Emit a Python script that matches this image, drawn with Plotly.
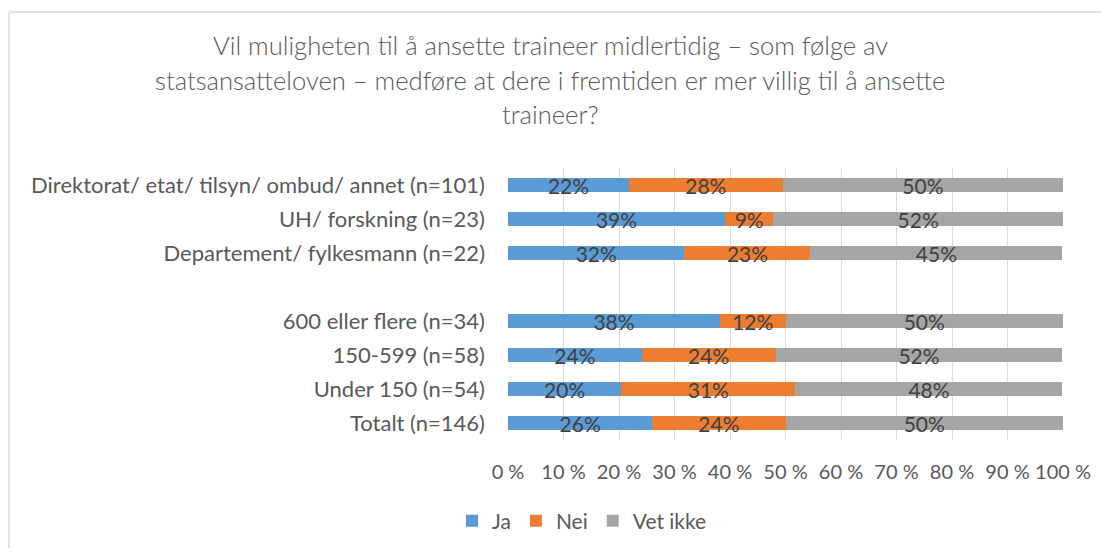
import plotly.graph_objects as go

# Data (percent of respondents), top-to-bottom order
categories_top = [
    "Direktorat/ etat/ tilsyn/ ombud/ annet (n=101)",
    "UH/ forskning (n=23)",
    "Departement/ fylkesmann (n=22)",
]
categories_bottom = [
    "600 eller flere (n=34)",
    "150-599 (n=58)",
    "Under 150 (n=54)",
    "Totalt (n=146)",
]
categories = categories_top + categories_bottom
ja = [21.8, 39.1, 31.8, 38.2, 24.1, 20.4, 26.0]
nei = [27.7, 8.7, 22.7, 11.8, 24.1, 31.4, 24.0]
vet_ikke = [50.5, 52.2, 45.4, 50.0, 51.7, 48.1, 50.0]
series_names = ["Ja", "Nei", "Vet ikke"]
series_colors = ["#5B9BD5", "#ED7D31", "#A5A5A5"]
tick_values = [0, 10, 20, 30, 40, 50, 60, 70, 80, 90, 100]
tick_labels = [f"{v} %" for v in tick_values]
title_lines = [
    "Vil muligheten til å ansette traineer midlertidig – som følge av",
    "statsansatteloven – medføre at dere i fremtiden er mer villig til å ansette",
    "traineer?",
]

category_order = categories_top + [" "] + categories_bottom

OFF = 8  # page body margin
PAGE_W, PAGE_H = 1109, 556
W, H = PAGE_W - 2 * OFF, PAGE_H - 2 * OFF
# plot area in page pixels
PX0, PX1, PY0, PY1 = 508, 1063, 168, 440
L = PX0 - OFF
R = W - (PX1 - OFF)
T = PY0 - OFF
B = H - (PY1 - OFF)
plot_h = PY1 - PY0
plot_w = PX1 - PX0

FONT = "Lato"


def py(pix):
    return (PY1 - pix) / plot_h


def px(pix):
    return (pix - PX0) / plot_w


fig = go.Figure()
for name, vals, col in zip(series_names, [ja, nei, vet_ikke], series_colors):
    fig.add_trace(go.Bar(
        y=categories, x=vals, name=name, orientation="h",
        marker=dict(color=col, line=dict(width=0)),
        text=[f"{round(v):.0f}%" for v in vals],
        textposition="inside", insidetextanchor="middle",
        textangle=0, constraintext="none",
        textfont=dict(family=FONT, size=21, color="#404040"),
        hoverinfo="skip",
    ))

annotations = []
for line, ypix in zip(title_lines, [45, 80, 114]):
    annotations.append(dict(
        text=line, xref="paper", yref="paper", x=px(550), y=py(ypix),
        xanchor="center", yanchor="middle", showarrow=False,
        font=dict(family=FONT, size=25.6, color="#595959", weight=300),
    ))

shapes = [
    dict(type="line", xref="paper", yref="paper", x0=px(9), x1=px(PAGE_W + 20),
         y0=py(12), y1=py(12), line=dict(color="#D9D9D9", width=1.5)),
    dict(type="line", xref="paper", yref="paper", x0=px(9), x1=px(9),
         y0=py(12), y1=py(PAGE_H + 20), line=dict(color="#D9D9D9", width=1.5)),
]

fig.update_layout(
    width=W, height=H,
    margin=dict(l=L, r=R, t=T, b=B, autoexpand=False),
    paper_bgcolor="white", plot_bgcolor="white",
    barmode="stack", bargap=0.59,
    font=dict(family=FONT, color="#595959"),
    showlegend=True,
    legend=dict(
        orientation="h", x=px(582), y=py(521), xanchor="center", yanchor="middle",
        font=dict(family=FONT, size=21, color="#595959"),
        traceorder="normal", itemwidth=30,
    ),
    xaxis=dict(
        range=[0, 100], tickvals=tick_values, ticktext=tick_labels,
        showgrid=True, gridcolor="#D9D9D9", gridwidth=1,
        zeroline=False, showline=False, ticks="",
        tickfont=dict(family=FONT, size=20, color="#595959"),
        ticklabelstandoff=18, fixedrange=True,
    ),
    yaxis=dict(
        type="category", categoryorder="array", categoryarray=category_order,
        range=[len(category_order) - 0.5, -0.5],
        showgrid=False, zeroline=False, showline=False, ticks="",
        tickfont=dict(family=FONT, size=22, color="#595959"),
        ticklabelstandoff=22, fixedrange=True,
    ),
    annotations=annotations,
    shapes=shapes,
)

fig.write_html("out.html", config={"displayModeBar": False})
